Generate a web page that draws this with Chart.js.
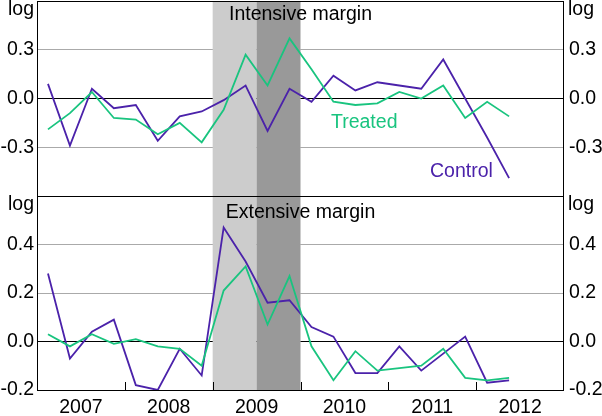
<!DOCTYPE html>
<html lang="en">
<head>
  <meta charset="UTF-8" />
  <title>Intensive and extensive margin</title>
  <script src="https://cdn.jsdelivr.net/npm/chart.js"></script>
  <style>
    body { margin: 0; background: #ffffff; }
    .wrap { position: relative; width: 602px; height: 416px; }
    #topChart { position: absolute; left: 0; top: 0; }
    #bottomChart { position: absolute; left: 0; top: 190px; }
  </style>
</head>
<body>
  <div class="wrap">
    <canvas id="topChart" width="602" height="200"></canvas>
    <canvas id="bottomChart" width="602" height="226"></canvas>
  </div>

  <script>
    // quarterly observations, 2007Q1 - 2012Q2
    const quarters = ['2007Q1','2007Q2','2007Q3','2007Q4','2008Q1','2008Q2','2008Q3','2008Q4',
                      '2009Q1','2009Q2','2009Q3','2009Q4','2010Q1','2010Q2','2010Q3','2010Q4',
                      '2011Q1','2011Q2','2011Q3','2011Q4','2012Q1','2012Q2'];
    const years = [2007, 2008, 2009, 2010, 2011, 2012];

    const controlIntensive = [0.09, -0.29, 0.06, -0.06, -0.04, -0.26, -0.11, -0.08, -0.01, 0.08, -0.20, 0.06,
                              -0.02, 0.14, 0.05, 0.10, 0.08, 0.06, 0.24, 0.00, -0.24, -0.49];
    const treatedIntensive = [-0.19, -0.09, 0.04, -0.12, -0.13, -0.22, -0.15, -0.27, -0.07, 0.27, 0.08, 0.37,
                              0.18, -0.02, -0.04, -0.03, 0.04, 0.00, 0.08, -0.12, -0.02, -0.11];
    const controlExtensive = [0.28, -0.07, 0.04, 0.09, -0.18, -0.20, -0.03, -0.14, 0.47, 0.33, 0.16, 0.17,
                              0.06, 0.02, -0.13, -0.13, -0.02, -0.12, -0.05, 0.02, -0.17, -0.16];
    const treatedExtensive = [0.03, -0.02, 0.03, -0.01, 0.01, -0.02, -0.03, -0.10, 0.21, 0.31, 0.07, 0.27,
                              -0.02, -0.16, -0.04, -0.12, -0.11, -0.10, -0.03, -0.15, -0.16, -0.15];

    const topTicks = [-0.6, -0.3, 0, 0.3, 0.6];
    const bottomTicks = [-0.2, 0, 0.2, 0.4, 0.6];

    // shaded periods: 2009 H1 light, 2009 H2 dark
    const shading = [
      { from: 2009.0, to: 2009.5, color: '#cccccc' },
      { from: 2009.5, to: 2010.0, color: '#999999' }
    ];

    const PURPLE = '#4b22aa';
    const GREEN = '#19c47f';
    const FONT = '"Liberation Sans", Arial, sans-serif';
    const FSIZE = 19.5;

    // mid-quarter position on a continuous year axis
    const qx = q => +q.slice(0, 4) + (+q.slice(5) - 0.5) / 4;
    const toPoints = vals => quarters.map((q, i) => ({ x: qx(q), y: vals[i] }));

    const framePlugin = {
      id: 'frame',
      beforeDatasetsDraw(chart) {
        const { ctx, chartArea: a, scales: { x } } = chart;
        ctx.save();
        shading.forEach(s => {
          const x1 = x.getPixelForValue(s.from), x2 = x.getPixelForValue(s.to);
          ctx.fillStyle = s.color;
          ctx.fillRect(x1, a.top, x2 - x1, a.bottom - a.top);
        });
        ctx.restore();
      },
      afterDatasetsDraw(chart, args, opts) {
        const { ctx, chartArea: a, scales: { x } } = chart;
        ctx.save();
        ctx.strokeStyle = '#000';
        ctx.lineWidth = 1;
        ctx.strokeRect(a.left + 0.5, a.top + 0.5, a.right - a.left - 1, a.bottom - a.top);
        if (opts.yearTicks) {
          ctx.beginPath();
          years.slice(1).forEach(y => {
            const px = Math.round(x.getPixelForValue(y)) + 0.5;
            ctx.moveTo(px, a.bottom);
            ctx.lineTo(px, a.bottom - 8);
          });
          ctx.stroke();
        }
        ctx.font = FSIZE + 'px ' + FONT;
        ctx.textBaseline = 'alphabetic';
        ctx.fillStyle = '#000';
        ctx.textAlign = 'right';
        ctx.fillText('log', a.left - 3, a.top + opts.logY);
        ctx.textAlign = 'left';
        ctx.fillText('log', a.right + 4, a.top + opts.logY);
        ctx.textAlign = 'center';
        ctx.fillText(opts.title, (a.left + a.right) / 2, a.top + opts.titleY);
        (opts.notes || []).forEach(n => {
          ctx.fillStyle = n.color;
          ctx.textAlign = 'left';
          ctx.fillText(n.text, n.x, n.y);
        });
        ctx.restore();
      }
    };

    function yAxes(tickVals, hideAbove, hideBelow) {
      const fmt = v => (v > hideAbove + 1e-9 || v < hideBelow - 1e-9) ? '' : (Math.abs(v) < 1e-9 ? '0.0' : v.toFixed(1));
      const fit = w => s => { s.width = w; s.paddingTop = 0; s.paddingBottom = 0; };
      const base = {
        type: 'linear',
        min: tickVals[0],
        max: tickVals[tickVals.length - 1],
        afterBuildTicks: s => { s.ticks = tickVals.map(v => ({ value: v })); },
        border: { display: false },
        ticks: { color: '#000', font: { family: FONT, size: FSIZE }, callback: fmt }
      };
      return {
        y: Object.assign({}, base, {
          position: 'left',
          afterFit: fit(37),
          grid: {
            drawTicks: false,
            color: c => {
              const v = c.tick.value;
              if (v <= tickVals[0] + 1e-9 || v >= tickVals[tickVals.length - 1] - 1e-9) return 'rgba(0,0,0,0)';
              return Math.abs(v) < 1e-9 ? '#000000' : '#aaaaaa';
            }
          },
          ticks: Object.assign({}, base.ticks, { padding: 3 })
        }),
        y2: Object.assign({}, base, {
          position: 'right',
          afterFit: fit(38),
          grid: { display: false, drawTicks: false },
          ticks: Object.assign({}, base.ticks, { padding: 5 })
        })
      };
    }

    const lineSet = (label, vals, color) => ({
      label, data: toPoints(vals), borderColor: color, borderWidth: 1.8,
      pointRadius: 0, tension: 0, fill: false
    });

    new Chart(document.getElementById('topChart'), {
      type: 'line',
      data: {
        datasets: [
          lineSet('Treated', treatedIntensive, GREEN),
          lineSet('Control', controlIntensive, PURPLE)
        ]
      },
      options: {
        responsive: false,
        animation: false,
        layout: { padding: { top: 1, bottom: 4 } },
        scales: Object.assign({
          x: { type: 'linear', min: 2007, max: 2013, display: false }
        }, yAxes(topTicks, 0.3, -0.3)),
        plugins: {
          legend: { display: false },
          tooltip: { enabled: false },
          frame: {
            title: 'Intensive margin', titleY: 19, logY: 14,
            notes: [
              { text: 'Treated', x: 331, y: 128, color: GREEN },
              { text: 'Control', x: 430, y: 177, color: PURPLE }
            ]
          }
        }
      },
      plugins: [framePlugin]
    });

    new Chart(document.getElementById('bottomChart'), {
      type: 'line',
      data: {
        datasets: [
          lineSet('Treated', treatedExtensive, GREEN),
          lineSet('Control', controlExtensive, PURPLE)
        ]
      },
      options: {
        responsive: false,
        animation: false,
        layout: { padding: { top: 6 } },
        scales: Object.assign({
          x: {
            type: 'linear', min: 2007, max: 2013, position: 'bottom',
            afterBuildTicks: s => { s.ticks = years.map(y => ({ value: y + 0.5 })); },
            afterFit: s => { s.height = 26; s.paddingLeft = 0; s.paddingRight = 0; },
            grid: { display: false, drawTicks: false },
            border: { display: false },
            ticks: {
              color: '#000', padding: 6, maxRotation: 0,
              font: { family: FONT, size: FSIZE },
              callback: v => String(Math.floor(v))
            }
          }
        }, yAxes(bottomTicks, 0.4, -0.2)),
        plugins: {
          legend: { display: false },
          tooltip: { enabled: false },
          frame: { title: 'Extensive margin', titleY: 22, logY: 14, yearTicks: true }
        }
      },
      plugins: [framePlugin]
    });
  </script>
</body>
</html>
